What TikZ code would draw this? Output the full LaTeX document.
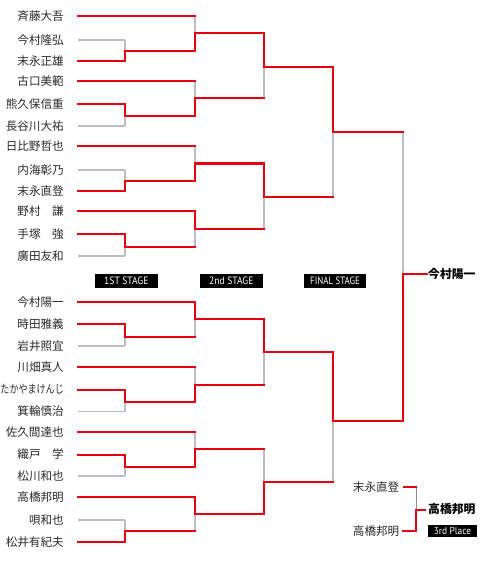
\documentclass[tikz,border=0pt]{standalone}
\usepackage{fontspec}
\setmainfont{Noto Sans CJK JP}
\newfontfamily\stagefont{PT Sans}
\definecolor{win}{HTML}{E60012}
\definecolor{lose}{HTML}{BDBDBD}
\definecolor{ink}{HTML}{2A2A2A}
\newcommand\bm[4]{%
  \draw[grayline] (#2 -| #3) -- (#3);
  \draw[#4] (#2) -- (#2 -| #3);
  \draw[redline] (#1) -- (#1 -| #3) -- (#3);
}
\begin{document}
\begin{tikzpicture}[x=1pt,y=-1pt,
  pname/.style={anchor=east,inner sep=0pt,font=\fontsize{11.6}{12}\selectfont,text=ink},
  champ/.style={anchor=west,inner sep=0pt,font=\bfseries\fontsize{11.8}{12}\selectfont,text=black},
  stagebox/.style={fill=black,text=white,minimum height=14pt,inner sep=0pt,font=\stagefont\fontsize{10.6}{11}\selectfont},
  redline/.style={draw=win,line width=2pt,line cap=rect},
  grayline/.style={draw=lose,line width=1.3pt},
  thirdgray/.style={draw=black!45,line width=0.9pt}]
\useasboundingbox (0,0) rectangle (480,580);
% players
\foreach \i/\y/\t in {1/16/斉藤大吾,2/40/今村隆弘,3/61/末永正雄,4/81/古口美範,5/104/熊久保信重,6/126/長谷川大祐,
  7/146/日比野哲也,8/170/内海彰乃,9/191/末永直登,10/211/野村　謙,11/234/手塚　強,12/256/廣田友和,
  13/302/今村陽一,14/324/時田雅義,15/346/岩井照宜,16/367/川畑真人,18/411.5/箕輪慎治,
  19/432/佐久間達也,20/454.5/織戸　学,21/476/松川和也,22/497/高橋邦明,23/520/唄和也,24/542/松井有紀夫}{
  \node[pname] (p\i) at (64,\y) {\t};
  \coordinate (a\i) at (78,\y);
}
\node[pname] (p17) at (64,389.5) {\scalebox{0.78}[1]{たかやまけんじ}};
\coordinate (a17) at (78,389.5);
% first stage junctions
\coordinate (f1) at (125,51);
\coordinate (f2) at (125,116);
\coordinate (f3) at (125,181);
\coordinate (f4) at (125,246.5);
\coordinate (f5) at (125,336.5);
\coordinate (f6) at (125,401.5);
\coordinate (f7) at (125,466.5);
\coordinate (f8) at (125,531);
% second stage
\coordinate (s1) at (195,33.5);
\coordinate (s2) at (195,98);
\coordinate (s3) at (195,163.5);
\coordinate (s4) at (195,228.5);
\coordinate (s5) at (195,319);
\coordinate (s6) at (195,384.5);
\coordinate (s7) at (195,449);
\coordinate (s8) at (195,514);
% quarter
\coordinate (q1) at (264,66.7);
\coordinate (q2) at (264,196.5);
\coordinate (q3) at (264,352);
\coordinate (q4) at (264,481.7);
% semi
\coordinate (h1) at (333,131.7);
\coordinate (h2) at (333,420.7);
% final
\coordinate (fin) at (403,274.3);
\coordinate (fout) at (427,274.3);
% 1st stage
\bm{a3}{a2}{f1}{grayline}
\bm{a5}{a6}{f2}{grayline}
\bm{a9}{a8}{f3}{grayline}
\bm{a11}{a12}{f4}{grayline}
\bm{a14}{a15}{f5}{grayline}
\bm{a17}{a18}{f6}{grayline}
\bm{a20}{a21}{f7}{grayline}
\bm{a24}{a23}{f8}{grayline}
% 2nd stage
\bm{f1}{a1}{s1}{redline}
\bm{f2}{a4}{s2}{redline}
\bm{f3}{a7}{s3}{redline}
\bm{a10}{f4}{s4}{redline}
\bm{a13}{f5}{s5}{redline}
\bm{f6}{a16}{s6}{redline}
\bm{f7}{a19}{s7}{redline}
\bm{a22}{f8}{s8}{redline}
% quarter
\bm{s1}{s2}{q1}{redline}
\bm{s3}{s4}{q2}{redline}
\bm{s5}{s6}{q3}{redline}
\bm{s8}{s7}{q4}{redline}
% semi
\bm{q1}{q2}{h1}{redline}
\bm{q3}{q4}{h2}{redline}
% final
\bm{h2}{h1}{fin}{redline}
\draw[redline] (fin) -- (fout);
\node[champ] (champion) at (428,274.3) {今村陽一};
% stage labels
\node[stagebox,minimum width=62.7pt] (st1) at (126.3,280.5) {\scalebox{0.9}[1]{1ST STAGE}};
\node[stagebox,minimum width=62.7pt] (st2) at (231.3,280.5) {\scalebox{0.9}[1]{2nd STAGE}};
\node[stagebox,minimum width=62pt] (st3) at (335,280.5) {\scalebox{0.84}[1]{FINAL STAGE}};
% third place
\node[pname] (c1) at (399.5,486.7) {末永直登};
\node[pname] (c2) at (399.5,530.7) {高橋邦明};
\coordinate (b1) at (404,486.7);
\coordinate (b2) at (403,530.7);
\coordinate (t) at (416,510);
\coordinate (tout) at (425,510);
\draw[thirdgray] (b1 -| t) -- (t);
\draw[redline] (b1) -- (b1 -| t);
\draw[redline] (b2) -- (b2 -| t) -- (t) -- (tout);
\node[champ] (third) at (428,509.5) {高橋邦明};
\node[fill=black,text=white,minimum width=48.5pt,minimum height=12pt,inner sep=0pt,font=\stagefont\fontsize{10.2}{10}\selectfont] (tp) at (452.5,531) {\scalebox{0.92}[1]{3rd Place}};
\end{tikzpicture}
\end{document}
